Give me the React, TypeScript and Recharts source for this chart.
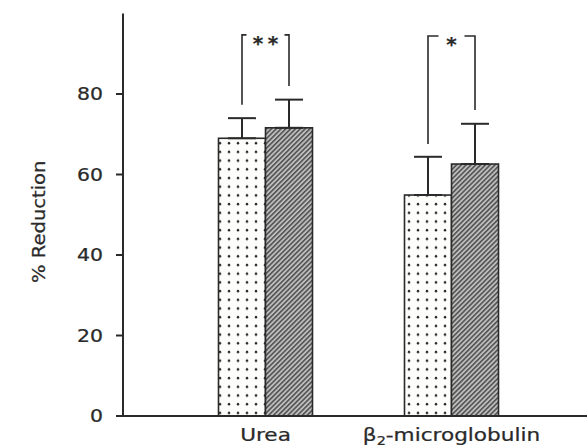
import React from "react";
import { Bar, BarChart, ErrorBar, Label, XAxis, YAxis } from "recharts";

// mean % reduction per solute, two treatment groups, with upward SD
const solutes = ["Urea", "β2-microglobulin"];
const dottedMean = [69.0, 54.9];
const dottedSd = [5.0, 9.5];
const hatchedMean = [71.6, 62.6];
const hatchedSd = [7.0, 10.0];

// significance brackets (leg ends and top, in % reduction)
const bracketLeft = [77.3, 67.6];
const bracketRight = [82.0, 76.0];
const bracketTop = [94.7, 94.4];
const stars = ["**", "*"];

const yTicks = [0, 20, 40, 60, 80];

const INK = "#2a2a2a";
const FONT = "'DejaVu Sans', sans-serif";

const data = solutes.map((name, i) => ({
	name,
	dotted: dottedMean[i],
	dottedErr: [0, dottedSd[i]],
	hatched: hatchedMean[i],
	hatchedErr: [0, hatchedSd[i]],
	left: bracketLeft[i],
	right: bracketRight[i],
	top: bracketTop[i],
	stars: stars[i],
}));

// slightly heavy, wide lettering
const textStyle = { fill: INK, stroke: INK, strokeWidth: 0.25, fontFamily: FONT };

const YTick = ({ x, y, payload }: any) => (
	<g transform={`translate(${x},${y})`}>
		<text transform="scale(1.2,1)" textAnchor="end" dy="0.36em" fontSize={17} {...textStyle}>
			{payload.value}
		</text>
	</g>
);

const XTick = ({ x, y, payload }: any) => {
	const m = String(payload.value).match(/^(β)(2)(.*)$/);
	return (
		<g transform={`translate(${x},${y + 25})`}>
			<text transform="scale(1.2,1)" textAnchor="middle" fontSize={18} {...textStyle}>
				{m ? (
					<>
						{m[1]}
						<tspan fontSize={12} dy={4}>{m[2]}</tspan>
						<tspan dy={-4}>{m[3]}</tspan>
					</>
				) : (
					payload.value
				)}
			</text>
		</g>
	);
};

const YLabel = ({ viewBox }: any) => {
	const cx = viewBox.x + 39;
	const cy = viewBox.y + viewBox.height / 2 + 7;
	return (
		<g transform={`translate(${cx},${cy}) rotate(-90)`}>
			<text transform="scale(1.15,1)" textAnchor="middle" dy="0.36em" fontSize={17} {...textStyle}>
				% Reduction
			</text>
		</g>
	);
};

// dotted bar also carries the bracket joining it to its hatched neighbour
const DottedBar = (props: any) => {
	const { x, y, width, height, payload } = props;
	const base = y + height;
	const k = height / payload.dotted;
	const py = (v: number) => base - v * k;
	const lx = x + width / 2;
	const rx = x + width * 1.5;
	const mid = x + width;
	const n = payload.stars.length;
	const half = 7 + 6 * n;
	const ty = py(payload.top);
	return (
		<g>
			<rect x={x} y={y} width={width} height={height} fill="url(#dots)" stroke={INK} strokeWidth={1.6} />
			<path
				d={`M${lx},${py(payload.left)} V${ty} H${mid - half} M${mid + half},${ty} H${rx} V${py(payload.right)}`}
				fill="none"
				stroke={INK}
				strokeWidth={1.6}
			/>
			{Array.from(payload.stars as string).map((s, i) => (
				<text key={i} x={mid + (i - (n - 1) / 2) * 15} y={ty + 15} textAnchor="middle" fontSize={20} fontWeight="bold" {...textStyle}>
					{s}
				</text>
			))}
		</g>
	);
};

const HatchedBar = (props: any) => {
	const { x, y, width, height } = props;
	return <rect x={x} y={y} width={width} height={height} fill="url(#hatch)" stroke={INK} strokeWidth={1.6} />;
};

export default function App() {
	return (
		<div style={{ position: "absolute", left: 0, top: 0, width: 587, height: 448, background: "#fff" }}>
			<BarChart width={587} height={448} data={data} margin={{ top: 13.5, right: 0, bottom: 0, left: 0 }} barGap={0} barSize={47}>
				<defs>
					<pattern id="dots" patternUnits="userSpaceOnUse" width={9} height={8.7}>
						<rect width={9} height={8.7} fill="#fdfdfb" />
						<circle cx={4} cy={4} r={1.25} fill="#2a2a2a" />
					</pattern>
					<pattern id="hatch" patternUnits="userSpaceOnUse" width={3.4} height={3.4} patternTransform="rotate(45)">
						<rect width={3.4} height={3.4} fill="#bdbdbd" />
						<line x1={0.8} y1={0} x2={0.8} y2={3.4} stroke="#444" strokeWidth={1.4} />
					</pattern>
				</defs>
				<XAxis
					dataKey="name"
					height={32}
					padding={{ left: 49.5, right: 42.5 }}
					tickLine={false}
					tickSize={0}
					tickMargin={0}
					axisLine={{ stroke: INK, strokeWidth: 2 }}
					tick={<XTick />}
					interval={0}
				/>
				<YAxis
					width={123}
					domain={[0, 100]}
					ticks={yTicks}
					interval={0}
					tickSize={7}
					tickMargin={13}
					axisLine={{ stroke: INK, strokeWidth: 2 }}
					tickLine={{ stroke: INK, strokeWidth: 2 }}
					tick={<YTick />}
				>
					<Label content={<YLabel />} />
				</YAxis>
				<Bar dataKey="dotted" shape={<DottedBar />} isAnimationActive={false}>
					<ErrorBar dataKey="dottedErr" direction="y" width={14} stroke={INK} strokeWidth={2} />
				</Bar>
				<Bar dataKey="hatched" shape={<HatchedBar />} isAnimationActive={false}>
					<ErrorBar dataKey="hatchedErr" direction="y" width={14} stroke={INK} strokeWidth={2} />
				</Bar>
			</BarChart>
		</div>
	);
}
